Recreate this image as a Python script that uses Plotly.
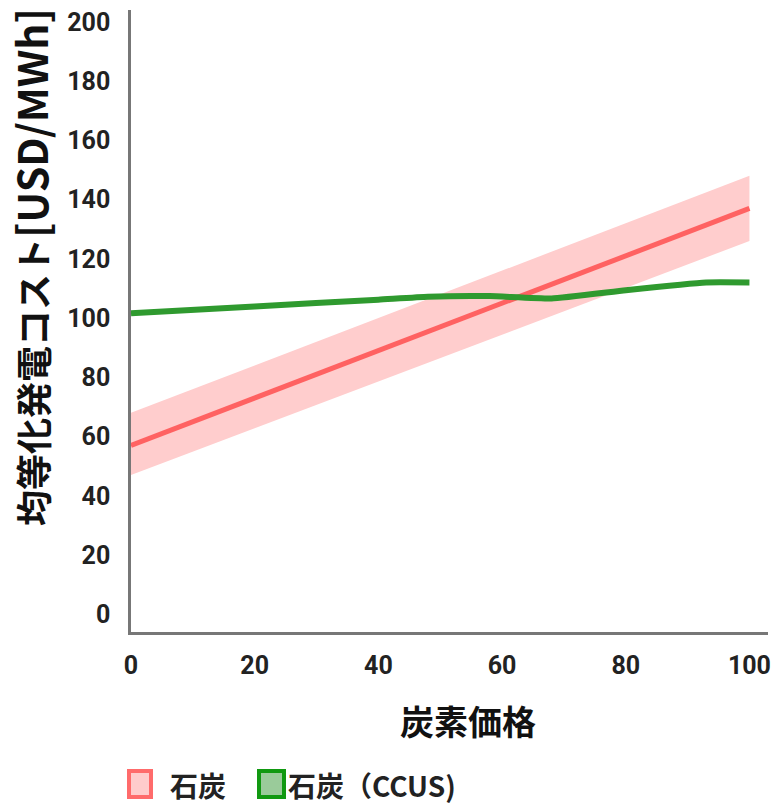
import plotly.graph_objects as go

# Carbon price (USD/t-CO2) on the x axis
carbon_price = [0, 50, 100]
# Levelized cost of electricity, unabated coal: central line and range
coal_mid = [57, 97, 137]
coal_upper = [68, 108, 148]
coal_lower = [47, 86.5, 126]

# Coal with CCUS
ccus_price = [0, 20, 40, 48, 58, 68, 80, 93, 100]
ccus_cost = [101.6, 103.9, 106.2, 107.2, 107.4, 106.6, 109.4, 112, 112]

x_ticks = [0, 20, 40, 60, 80, 100]
y_ticks = [0, 20, 40, 60, 80, 100, 120, 140, 160, 180, 200]

legend_labels = ["石炭", "石炭（CCUS)"]

RED = "#ff6262"
BAND = "#ffcdcd"
GREEN = "#2f9a2f"

W, H = 773, 806
L, R, T, B = 131, 5, 10, 174
PW, PH = W - L - R, H - T - B


def px(x):
    return (x - L) / PW


def py(y):
    return (H - B - y) / PH


fig = go.Figure()
fig.add_trace(go.Scatter(x=carbon_price, y=coal_upper, mode="lines",
                         line=dict(width=0, color=BAND), hoverinfo="skip",
                         showlegend=False))
fig.add_trace(go.Scatter(x=carbon_price, y=coal_lower, mode="lines",
                         line=dict(width=0, color=BAND), fill="tonexty",
                         fillcolor=BAND, showlegend=False))
fig.add_trace(go.Scatter(x=carbon_price, y=coal_mid, mode="lines",
                         line=dict(width=5, color=RED), showlegend=False))
fig.add_trace(go.Scatter(x=ccus_price, y=ccus_cost, mode="lines",
                         line=dict(width=6, color=GREEN, shape="spline",
                                   smoothing=0.4),
                         showlegend=False))

tick_font = dict(family="Roboto, sans-serif", size=25, color="#222222",
                 weight="bold")

fig.update_xaxes(range=[0, 103], tickvals=x_ticks, showgrid=False,
                 zeroline=False, showline=True, linecolor="#777777",
                 linewidth=2.5, ticks="", ticklen=0, tickfont=tick_font,
                 ticklabelstandoff=9, ticklabeloverflow="allow",
                 automargin=False)
fig.update_yaxes(range=[-6, 204], tickvals=y_ticks, showgrid=False,
                 zeroline=False, showline=True, linecolor="#777777",
                 linewidth=2.5, ticks="", ticklen=0, tickfont=tick_font,
                 ticklabelstandoff=13, ticklabeloverflow="allow",
                 automargin=False)

cjk = "Noto Sans CJK JP, sans-serif"
annotations = [
    dict(text="均等化発電コスト<span style='font-size:41px'>[USD/MWh]</span>",
         x=px(30), y=py(267), xref="paper", yref="paper", textangle=-90,
         showarrow=False, xanchor="center", yanchor="middle",
         font=dict(family=cjk, size=36, color="#111111", weight="bold")),
    dict(text="炭素価格", x=px(468), y=py(720), xref="paper", yref="paper",
         showarrow=False, xanchor="center", yanchor="middle",
         font=dict(family=cjk, size=34, color="#111111", weight="bold")),
    dict(text=legend_labels[0], x=px(168), y=py(785), xref="paper",
         yref="paper", showarrow=False, xanchor="left", yanchor="middle",
         font=dict(family=cjk, size=28, color="#222222", weight="bold")),
    dict(text=legend_labels[1], x=px(286), y=py(785), xref="paper",
         yref="paper", showarrow=False, xanchor="left", yanchor="middle",
         font=dict(family=cjk, size=28, color="#222222", weight="bold")),
]

shapes = [
    dict(type="rect", xref="paper", yref="paper",
         x0=px(129), x1=px(151), y0=py(797), y1=py(771),
         line=dict(color="#ff6b6b", width=4), fillcolor="#ffcccc"),
    dict(type="rect", xref="paper", yref="paper",
         x0=px(259), x1=px(284), y0=py(797), y1=py(771),
         line=dict(color="#119911", width=4), fillcolor="#9acb9a"),
]

fig.update_layout(width=W, height=H, margin=dict(l=L, r=R, t=T, b=B),
                  plot_bgcolor="white", paper_bgcolor="white",
                  showlegend=False, annotations=annotations, shapes=shapes)

fig.write_html("out.html")
